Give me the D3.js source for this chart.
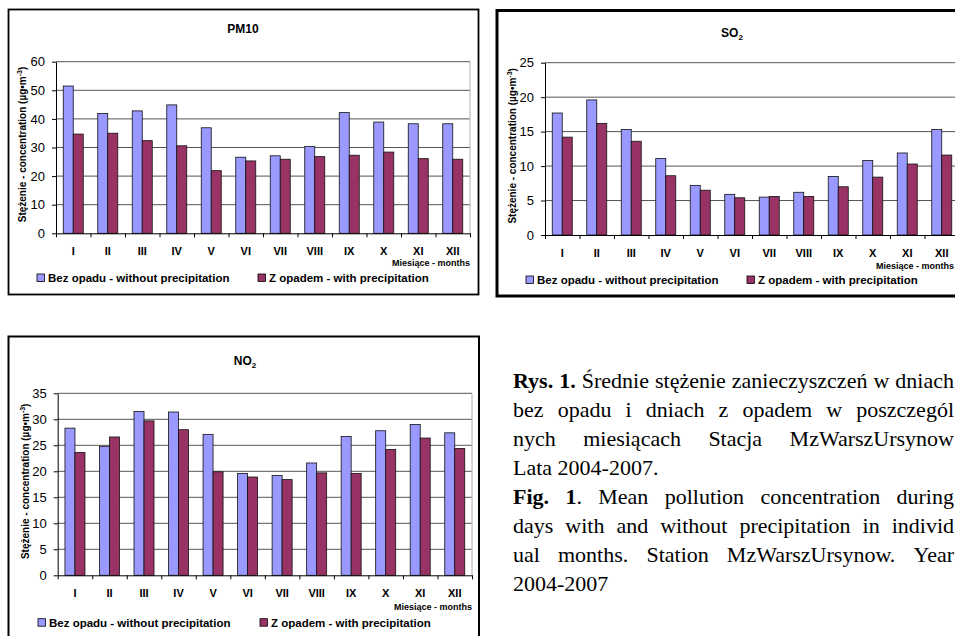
<!DOCTYPE html>
<html>
<head>
<meta charset="utf-8">
<script src="https://cdn.jsdelivr.net/npm/d3@7"></script>
<style>
  html, body { margin: 0; padding: 0; background: #fff; }
  svg { display: block; }
  .chart text { font-family: "Liberation Sans", Arial, sans-serif; fill: #000; }
  .caption text { font-family: "Liberation Serif", "Times New Roman", serif; fill: #000; }
</style>
</head>
<body>
<svg id="fig" width="955" height="636"></svg>
<script>
// Monthly categories and series
const months = ["I", "II", "III", "IV", "V", "VI", "VII", "VIII", "IX", "X", "XI", "XII"];
const seriesNames = ["Bez opadu - without precipitation", "Z opadem - with precipitation"];
const seriesColors = ["#9999ff", "#993366"];

// PM10 mean concentration, µg/m3
const pm10Dry = [51.5, 41.9, 42.8, 44.9, 36.9, 26.6, 27.1, 30.4, 42.2, 38.9, 38.3, 38.3];
const pm10Wet = [34.7, 35.0, 32.4, 30.6, 21.9, 25.3, 25.9, 26.8, 27.3, 28.4, 26.1, 25.9];
const pm10Ticks = [0, 10, 20, 30, 40, 50, 60];

// SO2 mean concentration, µg/m3
const so2Dry = [17.7, 19.6, 15.3, 11.1, 7.2, 5.9, 5.5, 6.2, 8.5, 10.8, 11.9, 15.3];
const so2Wet = [14.2, 16.2, 13.6, 8.6, 6.5, 5.4, 5.6, 5.6, 7.0, 8.4, 10.3, 11.6];
const so2Ticks = [0, 5, 10, 15, 20, 25];

// NO2 mean concentration, µg/m3
const no2Dry = [28.3, 24.8, 31.5, 31.4, 27.1, 19.6, 19.2, 21.6, 26.7, 27.8, 29.0, 27.4];
const no2Wet = [23.6, 26.6, 29.7, 28.0, 19.9, 18.9, 18.4, 19.7, 19.6, 24.2, 26.4, 24.4];
const no2Ticks = [0, 5, 10, 15, 20, 25, 30, 35];

const yTitleMain = "Stężenie - concentration (µg•m";
const yTitleSup = "-3";
const xTitle = "Miesiące - months";

// Caption lines (bold prefix length, justified or not)
const captionLines = [
  { text: "Rys. 1. Średnie stężenie zanieczyszczeń w dniach", bold: 7, justify: true },
  { text: "bez opadu i dniach z opadem w poszczegól", bold: 0, justify: true },
  { text: "nych miesiącach Stacja MzWarszUrsynow", bold: 0, justify: true },
  { text: "Lata 2004-2007.", bold: 0, justify: false },
  { text: "Fig. 1. Mean pollution concentration during", bold: 6, justify: true },
  { text: "days with and without precipitation in individ", bold: 0, justify: true },
  { text: "ual months. Station MzWarszUrsynow. Year", bold: 0, justify: true },
  { text: "2004-2007", bold: 0, justify: false }
];

const svg = d3.select("#fig");

const panels = [
  { title: "PM10", sub: "", dry: pm10Dry, wet: pm10Wet, ticks: pm10Ticks,
    box: [8.5, 9.5, 470, 285], border: 1.8,
    plot: { l: 56, r: 470, t: 61.7, b: 233.3 },
    titleX: 243, titleY: 33, yTitleX: 22, monthY: 255, mY: 266, mX: 470,
    legendY: 278, legendX: [37, 258] },
  { title: "SO", sub: "2", dry: so2Dry, wet: so2Wet, ticks: so2Ticks,
    box: [497, 10.5, 472, 285.5], border: 3,
    plot: { l: 545, r: 959, t: 62.7, b: 235 },
    titleX: 732, titleY: 37, yTitleX: 512, monthY: 257, mY: 268.5, mX: 954,
    legendY: 280, legendX: [526, 747] },
  { title: "NO", sub: "2", dry: no2Dry, wet: no2Wet, ticks: no2Ticks,
    box: [8.5, 336.5, 470.5, 320], border: 2,
    plot: { l: 57.7, r: 472, t: 393.3, b: 575.3 },
    titleX: 245, titleY: 365, yTitleX: 25, monthY: 597, mY: 610, mX: 472,
    legendY: 622.7, legendX: [38, 260] }
];

panels.forEach(drawPanel);
drawCaption();

function drawPanel(p) {
  const g = svg.append("g").attr("class", "chart");
  const { l, r, t, b } = p.plot;

  // outer frame
  g.append("rect")
    .attr("x", p.box[0]).attr("y", p.box[1])
    .attr("width", p.box[2]).attr("height", p.box[3])
    .attr("fill", "none").attr("stroke", "#000").attr("stroke-width", p.border);

  // title
  const title = g.append("text")
    .attr("x", p.titleX).attr("y", p.titleY)
    .attr("text-anchor", "middle")
    .attr("font-size", 12).attr("font-weight", "bold")
    .text(p.title);
  if (p.sub) {
    title.append("tspan").attr("font-size", 8).attr("dy", 3).text(p.sub);
  }

  const y = d3.scaleLinear().domain([0, d3.max(p.ticks)]).range([b, t]);
  const x0 = d3.scaleBand().domain(months).range([l, r]).padding(0);
  const x1 = d3.scaleBand().domain([0, 1]).range([0, x0.bandwidth()])
    .paddingInner(0).paddingOuter(0.725);
  const xb = d3.scaleLinear().domain([0, months.length]).range([l, r]);

  // gridlines
  g.append("g").selectAll("line")
    .data(p.ticks.filter(v => v > 0))
    .join("line")
    .attr("x1", l).attr("x2", r)
    .attr("y1", d => y(d)).attr("y2", d => y(d))
    .attr("stroke", "#555").attr("stroke-width", 1);

  // plot area right edge
  g.append("line")
    .attr("x1", r).attr("x2", r).attr("y1", t).attr("y2", b)
    .attr("stroke", "#b0b0b0").attr("stroke-width", 1);

  // bars
  const rows = months.map((m, i) => ({ m, v: [p.dry[i], p.wet[i]] }));
  g.append("g").selectAll("g")
    .data(rows)
    .join("g")
    .attr("transform", d => `translate(${x0(d.m)},0)`)
    .selectAll("rect")
    .data(d => d.v.map((v, k) => ({ v, k })))
    .join("rect")
    .attr("x", d => x1(d.k))
    .attr("width", x1.bandwidth())
    .attr("y", d => y(d.v))
    .attr("height", d => y(0) - y(d.v))
    .attr("fill", d => seriesColors[d.k])
    .attr("stroke", "#111").attr("stroke-width", 0.8);

  // y axis
  const ya = g.append("g")
    .attr("transform", `translate(${l},0)`)
    .call(d3.axisLeft(y).tickValues(p.ticks).tickSize(4).tickPadding(7).tickSizeOuter(0));
  ya.select(".domain").attr("stroke", "#000");
  ya.selectAll(".tick line").attr("stroke", "#000");
  ya.selectAll(".tick text")
    .attr("font-size", 13).attr("font-family", "Liberation Sans, Arial, sans-serif");

  // x axis: boundary ticks between months
  const xa = g.append("g")
    .attr("transform", `translate(0,${b})`)
    .call(d3.axisBottom(xb).tickValues(d3.range(months.length + 1)).tickSize(4).tickFormat("").tickSizeOuter(0));
  xa.select(".domain").attr("stroke", "#000");
  xa.selectAll(".tick line").attr("stroke", "#000");

  // month labels
  g.append("g").selectAll("text")
    .data(months)
    .join("text")
    .attr("x", d => x0(d) + x0.bandwidth() / 2)
    .attr("y", p.monthY)
    .attr("text-anchor", "middle")
    .attr("font-size", 11).attr("font-weight", "bold")
    .text(d => d);

  // x axis title
  g.append("text")
    .attr("x", p.mX).attr("y", p.mY)
    .attr("text-anchor", "end")
    .attr("font-size", 9).attr("font-weight", "bold")
    .text(xTitle);

  // y axis title
  const yt = g.append("text")
    .attr("transform", `translate(${p.yTitleX + 3.5},${(t + b) / 2 - 3}) rotate(-90)`)
    .attr("text-anchor", "middle")
    .attr("font-size", 10).attr("font-weight", "bold");
  yt.append("tspan").text(yTitleMain);
  yt.append("tspan").attr("font-size", 7).attr("dy", -4).text(yTitleSup);
  yt.append("tspan").attr("dy", 4).text(")");

  // legend
  const lg = g.append("g");
  seriesNames.forEach((name, k) => {
    const lx = p.legendX[k];
    lg.append("rect")
      .attr("x", lx).attr("y", p.legendY - 4)
      .attr("width", 7.5).attr("height", 7.5)
      .attr("fill", seriesColors[k]).attr("stroke", "#000").attr("stroke-width", 0.8);
    lg.append("text")
      .attr("x", lx + 11).attr("y", p.legendY + 4)
      .attr("font-size", 11.5).attr("font-weight", "bold")
      .text(name);
  });
}

function drawCaption() {
  const g = svg.append("g").attr("class", "caption");
  const x0 = 513, right = 954, top = 388, step = 29, size = 22;

  captionLines.forEach((line, li) => {
    const yy = top + li * step;
    // split into words, keeping char offsets for the bold prefix
    const words = [];
    let pos = 0;
    line.text.split(" ").forEach(w => {
      words.push({ w, s: pos });
      pos += w.length + 1;
    });
    const nodes = words.map(({ w, s }) => {
      const t = g.append("text").attr("y", yy).attr("font-size", size);
      const nb = Math.max(0, Math.min(w.length, line.bold - s));
      if (nb > 0) t.append("tspan").attr("font-weight", "bold").text(w.slice(0, nb));
      if (nb < w.length) t.append("tspan").text(w.slice(nb));
      return t;
    });
    const widths = nodes.map(n => n.node().getComputedTextLength());
    const total = d3.sum(widths);
    const gap = line.justify && nodes.length > 1
      ? (right - x0 - total) / (nodes.length - 1)
      : size * 0.25;
    let xx = x0;
    nodes.forEach((n, i) => {
      n.attr("x", xx);
      xx += widths[i] + gap;
    });
  });
}
</script>
</body>
</html>
